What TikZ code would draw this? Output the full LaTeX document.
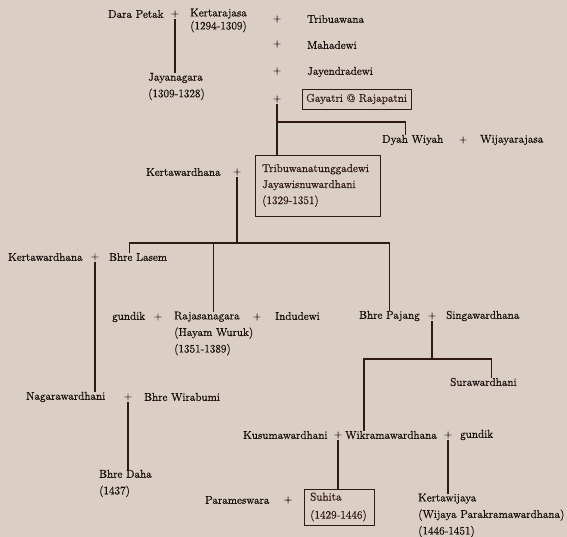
\documentclass[tikz,border=0pt]{standalone}
\usepackage{fontspec}
\usepackage{tikz}
\newfontfamily\famface{Latin Modern Roman}[FakeBold=0.7]
\definecolor{cloth}{RGB}{218,206,197}
\definecolor{ink}{RGB}{22,13,10}
\definecolor{rule}{RGB}{48,24,20}
\newcommand{\famfont}{\famface\fontsize{11.3}{16.5}\selectfont}
\tikzset{
	person/.style={anchor=west, inner sep=0pt, align=left, text=ink, font=\famfont},
	plus/.style={inner sep=1.5pt, text=ink, font=\famface\fontsize{10.5}{11}\selectfont},
	ruler/.style={draw, color=rule, inner ysep=0pt},
	link/.style={color=rule, line width=1.1pt}
}
\begin{document}
\begin{tikzpicture}[x=1pt, y=-1pt]
	\fill[cloth] (0,0) rectangle (567,537);
	\useasboundingbox (0,0) rectangle (567,537);
	% generation 1
	\node[person] (dara) at (108,14) {Dara Petak};
	\node[plus] (p1) at (175,14) {+};
	\node[person] (kraja) at (190,20.5) {Kertarajasa\\[-3.5pt](1294-1309)};
	\node[plus] (p2) at (277,19) {+};
	\node[plus] (p3) at (277,44) {+};
	\node[plus] (p4) at (277,71) {+};
	\node[plus] (p5) at (277,99) {+};
	\node[person] (tribua) at (307,19) {Tribuawana};
	\node[person] (maha) at (307,45) {Mahadewi};
	\node[person] (jayen) at (307,72) {Jayendradewi};
	\node[person, ruler, inner xsep=4pt, minimum height=20pt] (gaya) at (302,99) {Gayatri @ Rajapatni};
	\node[person] (jaya) at (148,86.5) {Jayanagara\\(1309-1328)};
	% generation 2
	\node[person] (dyah) at (382,140) {Dyah Wiyah};
	\node[plus] (p15) at (463,140) {+};
	\node[person] (wija) at (480,140) {Wijayarajasa};
	\node[person] (kw1) at (146,172) {Kertawardhana};
	\node[plus] (p6) at (237,172) {+};
	\node[person, ruler, inner xsep=7pt, text width=111pt, minimum height=61pt] (tribu) at (255,185.5)
		{Tribuwanatunggadewi\\[-0.5pt]Jayawisnuwardhani\\[-0.5pt](1329-1351)};
	% generation 3
	\node[person] (kw2) at (8,257) {Kertawardhana};
	\node[plus] (p7) at (95,257) {+};
	\node[person] (lasem) at (109,257) {Bhre Lasem};
	\node[person] (gundik1) at (112,317) {gundik};
	\node[plus] (p9) at (158,317) {+};
	\node[person] (raja) at (174,333.5) {Rajasanagara\\(Hayam Wuruk)\\(1351-1389)};
	\node[plus] (p10) at (257,317) {+};
	\node[person] (indu) at (275,316) {Indudewi};
	\node[person] (pajang) at (359,316) {Bhre Pajang};
	\node[plus] (p11) at (432,316) {+};
	\node[person] (singa) at (446,316) {Singawardhana};
	% generation 4
	\node[person] (sura) at (450,382) {Surawardhani};
	\node[person] (naga) at (26,397) {Nagarawardhani};
	\node[plus] (p8) at (128,397) {+};
	\node[person] (wira) at (144,397) {Bhre Wirabumi};
	\node[person] (kusuma) at (243,435) {Kusumawardhani};
	\node[plus] (p12) at (338,435) {+};
	\node[person] (wikrama) at (345,435) {Wikramawardhana};
	\node[plus] (p13) at (448,435) {+};
	\node[person] (gundik2) at (460,435) {gundik};
	% generation 5
	\node[person] (daha) at (99,483.5) {Bhre Daha\\(1437)};
	\node[person] (param) at (205,500) {Parameswara};
	\node[plus] (p14) at (288,500) {+};
	\node[person, ruler, inner xsep=6pt, text width=58pt, minimum height=36pt] (suhita) at (304,507)
		{Suhita\\[1.5pt](1429-1446)};
	\node[person] (kwija) at (418,515.5) {Kertawijaya\\(Wijaya Parakramawardhana)\\(1446-1451)};
	% lines of descent
	\coordinate (b1) at (277,122);
	\coordinate (b2) at (237,243);
	\coordinate (b3) at (432,359);
	\draw[link] (p1.south) -- (p1 |- jaya.north);
	\draw[link] (p5.south) -- (p5 |- tribu.north);
	\draw[link] (b1) -| ([xshift=-7pt]dyah.north);
	\draw[link] (p6.south) -- (b2);
	\draw[link] ([xshift=-9pt]lasem.north) |- (b2) -| (pajang.north);
	\draw[link] (raja.north) -- (raja.north |- b2);
	\draw[link] (p7.south) -- (p7 |- naga.north);
	\draw[link] (p8.south) -- (p8 |- daha.north);
	\draw[link] (p11.south) -- (b3);
	\draw[link] ([xshift=-27pt]wikrama.north) |- (b3) -| ([xshift=8pt]sura.north);
	\draw[link] (p12.south) -- (p12 |- suhita.north);
	\draw[link] (p13.south) -- (p13 |- kwija.north);
\end{tikzpicture}
\end{document}
